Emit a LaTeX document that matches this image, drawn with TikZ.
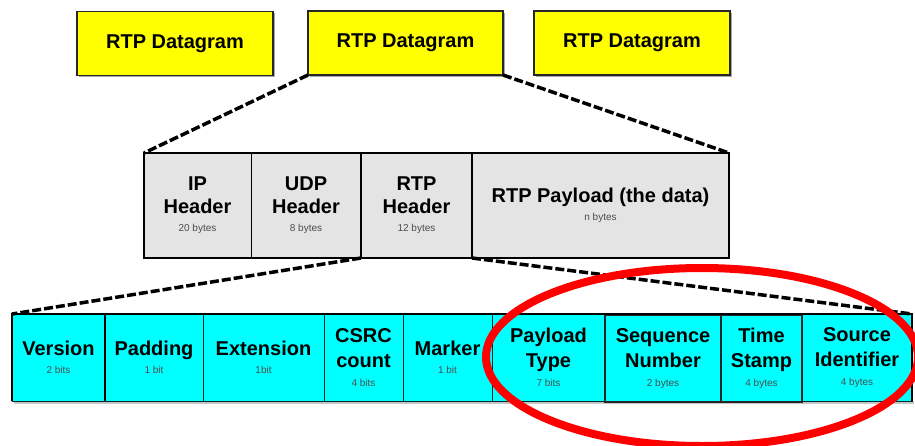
\documentclass[tikz,border=0pt]{standalone}
\usepackage{fontspec}
\setmainfont{Liberation Sans}
\usetikzlibrary{shadows}
\definecolor{aquafill}{RGB}{0,255,255}
\definecolor{yelfill}{RGB}{255,255,0}
\definecolor{greyfill}{RGB}{228,228,228}
\newcommand\smtxt[1]{{\fontsize{10}{11}\selectfont\mdseries\color{black!70}#1}}
\begin{document}
\begin{tikzpicture}[x=1pt,y=-1pt,
  every node/.style={inner sep=0pt, outer sep=0pt},
  dgram/.style={draw=black!85, line width=1.5pt, fill=yelfill, minimum height=64pt,
    font=\fontsize{20}{24}\selectfont\bfseries,
    drop shadow={shadow xshift=1.5pt, shadow yshift=-1.5pt, fill=gray!70, opacity=1}},
  hdr/.style={draw=black, line width=1pt, fill=greyfill, minimum height=105pt, align=center,
    font=\fontsize{20}{23}\selectfont\bfseries},
  fld/.style={draw=black!70!teal, line width=1pt, fill=aquafill, minimum height=87pt, align=center,
    font=\fontsize{20}{25}\selectfont\bfseries},
  frame/.style={draw=black, line width=2.5pt},
  conn/.style={draw=black, line width=3.5pt, dash pattern=on 9pt off 3pt},
  ring/.style={draw=red, line width=8pt}
]
\useasboundingbox (0,0) rectangle (915,445);
% top row
\node[dgram, minimum width=196pt] (d1) at (175,43.5) {RTP Datagram};
\node[dgram, minimum width=195pt] (d2) at (405.5,43) {RTP Datagram};
\node[dgram, minimum width=196pt] (d3) at (632,43) {RTP Datagram};
% middle row
\node[hdr, minimum width=107pt] (ip) at (197.5,205.5) {IP\\Header\\[-5pt]\smtxt{20 bytes}};
\node[hdr, minimum width=110pt] (udp) at (306,205.5) {UDP\\Header\\[-5pt]\smtxt{8 bytes}};
\node[hdr, minimum width=111pt] (rtp) at (416.5,205.5) {RTP\\Header\\[-5pt]\smtxt{12 bytes}};
\node[hdr, minimum width=257pt] (pay) at (600.5,205.5) {RTP Payload (the data)\\[-5pt]\smtxt{n bytes}};
\draw[frame] (ip.north west) rectangle (pay.south east);
\draw[line width=2pt] (rtp.north west) -- (rtp.south west);
\draw[line width=2pt] (rtp.north east) -- (rtp.south east);
% bottom row
\fill[gray!45] (14,401) rectangle (914,404);
\node[fld, minimum width=93pt] (ver) at (58.5,357.5) {Version\\[-7pt]\smtxt{2 bits}};
\node[fld, minimum width=98pt] (padd) at (154,357.5) {Padding\\[-7pt]\smtxt{1 bit}};
\node[fld, minimum width=121pt] (ext) at (263.5,357.5) {Extension\\[-7pt]\smtxt{1bit}};
\node[fld, minimum width=79pt] (csrc) at (363.5,357.5) {CSRC\\count\\[-6pt]\smtxt{4 bits}};
\node[fld, minimum width=89pt] (mark) at (447.5,357.5) {Marker\\[-7pt]\smtxt{1 bit}};
\node[fld, minimum width=113pt] (ptype) at (548.5,357.5) {Payload\\Type\\[-6pt]\smtxt{7 bits}};
\node[fld, minimum width=116pt, draw=black!85, line width=1.5pt] (seq) at (663,358.5) {Sequence\\Number\\[-6pt]\smtxt{2 bytes}};
\node[fld, minimum width=81pt, draw=black!85, line width=1.5pt] (ts) at (761.5,358.5) {Time\\Stamp\\[-6pt]\smtxt{4 bytes}};
\node[fld, minimum width=110pt] (src) at (857,357.5) {Source\\Identifier\\[-6pt]\smtxt{4 bytes}};
\draw[line width=2pt] (ver.south west) -- (ver.north west) -- (src.north east) -- (src.south east);
\draw[line width=2pt] (ver.north east) -- (ver.south east);
% connectors
\draw[conn] (d2.south west) -- (ip.north west);
\draw[conn] (d2.south east) -- (pay.north east);
\draw[conn] (rtp.south west) -- (ver.north west);
\draw[conn] (rtp.south east) -- (src.north east);
% highlight
\draw[ring] (702,357) ellipse [x radius=216pt, y radius=89pt];
\end{tikzpicture}
\end{document}
